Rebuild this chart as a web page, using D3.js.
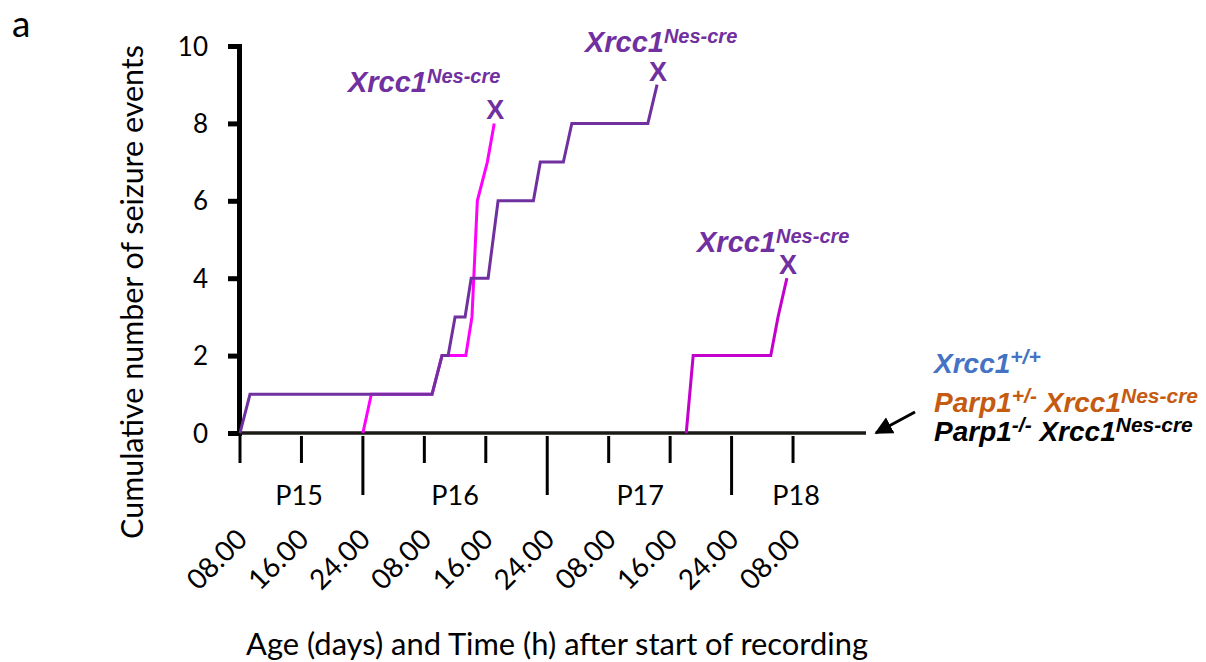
<!DOCTYPE html>
<html><head><meta charset="utf-8">
<script src="https://cdn.jsdelivr.net/npm/d3@7"></script>
<style>html,body{margin:0;padding:0;background:#fff;} svg{display:block;}</style>
</head><body><svg id="chart" width="1206" height="662"></svg>
<script>
// ---------- data ----------
const yTicks = [0, 2, 4, 6, 8, 10];
const tickHours = [0, 8, 16, 24, 32, 40, 48, 56, 64, 72];
const tickLabels = ["08.00","16.00","24.00","08.00","16.00","24.00","08.00","16.00","24.00","08.00"];
const dayBoundaryHours = [16, 40, 64];
const dayLabels = ["P15", "P16", "P17", "P18"];
const dayLabelHours = [7.7, 28.0, 52.1, 72.4];

// hours after P15 08.00, cumulative seizure count
const magentaHours  = [16.0, 17.1, 25.0, 26.3, 29.4, 30.2, 30.9, 32.2, 33.1];
const magentaCounts = [0, 1, 1, 2, 2, 3, 6, 7, 8];
const violetHours   = [58.1, 59.0, 69.1, 70.05, 71.2];
const violetCounts  = [0, 2, 2, 3, 4];
const purpleHours   = [0, 1.3, 25.0, 26.3, 27.1, 28.0, 29.3, 30.1, 32.3, 33.6, 38.2, 39.1, 42.1, 43.2, 53.1, 54.3];
const purpleCounts  = [0, 1, 1, 2, 2, 3, 3, 4, 4, 6, 6, 7, 7, 8, 8, 9];

const seriesColors = ["#FF00FF", "#C400CC", "#7030A0"];
const seriesHours  = [magentaHours, violetHours, purpleHours];
const seriesCounts = [magentaCounts, violetCounts, purpleCounts];

// genotype annotations (anchor in data units)
const annotHours  = [14.06, 44.9, 59.5];
const annotCounts = [8.81, 9.84, 4.68];

// ---------- chart ----------
const svg = d3.select("#chart");
const FONT = "Lato, 'Open Sans', sans-serif";
const ARIAL = "'Liberation Sans', Arial, sans-serif";

const x = d3.scaleLinear().domain([0, 81.5]).range([240, 866]);
const y = d3.scaleLinear().domain([0, 10]).range([433, 46]);

// panel letter
svg.append("text").attr("x", 12).attr("y", 37).attr("font-family", FONT)
  .attr("font-size", 37).text("a");

// Y axis
const yAxis = svg.append("g").attr("transform", `translate(${x(0) - 1},0)`)
  .call(d3.axisLeft(y).tickValues(yTicks).tickSize(11).tickSizeOuter(0).tickPadding(20));
yAxis.select(".domain").attr("stroke", "#000").attr("stroke-width", 5).attr("stroke-linecap", "square");
yAxis.selectAll(".tick line").attr("stroke", "#000").attr("stroke-width", 5);
yAxis.selectAll(".tick text").attr("font-family", FONT).attr("font-size", 26).attr("fill", "#000").attr("dy", "0.35em");

// X axis baseline
svg.append("line").attr("x1", x(0)).attr("x2", x(81.5)).attr("y1", y(0)).attr("y2", y(0))
  .attr("stroke", "#1c1a15").attr("stroke-width", 3.5);

// X ticks
svg.append("g").selectAll("line").data(tickHours).join("line")
  .attr("x1", d => x(d)).attr("x2", d => x(d))
  .attr("y1", y(0) + 3)
  .attr("y2", d => dayBoundaryHours.includes(d) ? y(0) + 62 : y(0) + 30)
  .attr("stroke", "#000").attr("stroke-width", 3);

// X tick labels
svg.append("g").selectAll("text").data(tickHours).join("text")
  .attr("transform", d => `translate(${x(d) + 9},541) rotate(-45)`)
  .attr("text-anchor", "end").attr("font-family", FONT).attr("font-size", 28)
  .text((d, i) => tickLabels[i]);

// day labels
svg.append("g").selectAll("text").data(dayLabels).join("text")
  .attr("x", (d, i) => x(dayLabelHours[i])).attr("y", 505)
  .attr("text-anchor", "middle").attr("font-family", FONT).attr("font-size", 27)
  .text(d => d);

function fit(sel, target) {
  const w = sel.node().getComputedTextLength();
  const fs = parseFloat(sel.attr("font-size"));
  if (w > 0) sel.attr("font-size", fs * target / w);
}

// axis titles
const xt = svg.append("text").attr("x", 557).attr("y", 655).attr("text-anchor", "middle")
  .attr("font-family", FONT).attr("font-size", 30)
  .text("Age (days) and Time (h) after start of recording");
fit(xt, 622);
const yt = svg.append("text").attr("transform", "translate(143,292) rotate(-90)").attr("text-anchor", "middle")
  .attr("font-family", FONT).attr("font-size", 30)
  .text("Cumulative number of seizure events");
fit(yt, 494);

// series lines
const line = d3.line().x(d => x(d[0])).y(d => y(d[1]));
seriesHours.forEach((hrs, s) => {
  const pts = hrs.map((h, i) => [h, seriesCounts[s][i]]);
  svg.append("path").datum(pts).attr("d", line)
    .attr("fill", "none").attr("stroke", seriesColors[s]).attr("stroke-width", 3)
    .attr("stroke-linejoin", "miter");
});

// X (death) markers at series ends
const ends = [[magentaHours, magentaCounts], [purpleHours, purpleCounts], [violetHours, violetCounts]];
svg.append("g").selectAll("text").data(ends).join("text")
  .attr("x", d => x(d[0][d[0].length - 1]) + 1)
  .attr("y", d => y(d[1][d[1].length - 1]) - 4)
  .attr("text-anchor", "middle").attr("font-family", ARIAL).attr("font-weight", "bold")
  .attr("font-size", 27).attr("fill", "#7030A0").text("X");

// genotype labels
function genotype(g, parts, supSize) {
  parts.forEach(p => {
    const t = g.append("tspan").text(p.t);
    if (p.sup) t.attr("font-size", supSize).attr("dy", -9);
    else if (p.back) t.attr("dy", 9);
  });
}
annotHours.forEach((h, i) => {
  const t = svg.append("text").attr("x", x(h)).attr("y", y(annotCounts[i]))
    .attr("font-family", ARIAL).attr("font-weight", "bold").attr("font-style", "italic")
    .attr("font-size", 29).attr("fill", "#7030A0");
  genotype(t, [{t: "Xrcc1"}, {t: "Nes-cre", sup: true}], 20);
});

// legend
const legend = [
  {color: "#4472C4", y: 373, parts: [{t: "Xrcc1"}, {t: "+/+", sup: true}]},
  {color: "#C55A11", y: 412, parts: [{t: "Parp1"}, {t: "+/-", sup: true}, {t: " Xrcc1", back: true}, {t: "Nes-cre", sup: true}]},
  {color: "#000000", y: 441, parts: [{t: "Parp1"}, {t: "-/-", sup: true}, {t: " Xrcc1", back: true}, {t: "Nes-cre", sup: true}]}
];
legend.forEach(L => {
  const t = svg.append("text").attr("x", 934).attr("y", L.y)
    .attr("font-family", ARIAL).attr("font-weight", "bold").attr("font-style", "italic")
    .attr("font-size", 28).attr("fill", L.color);
  genotype(t, L.parts, 21);
});

// arrow pointing at the zero line
svg.append("defs").append("marker").attr("id", "ah").attr("viewBox", "0 0 10 10")
  .attr("refX", 9).attr("refY", 5).attr("markerWidth", 6).attr("markerHeight", 6)
  .attr("markerUnits", "strokeWidth").attr("orient", "auto")
  .append("path").attr("d", "M0,0 L10,5 L0,10 Z").attr("fill", "#000");
svg.append("line").attr("x1", 915).attr("y1", 412).attr("x2", x(82.8)).attr("y2", y(0))
  .attr("stroke", "#000").attr("stroke-width", 3).attr("marker-end", "url(#ah)");
</script></body></html>
